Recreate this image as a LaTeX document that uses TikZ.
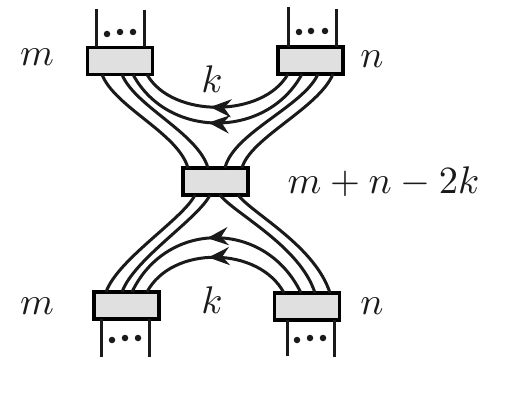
\documentclass[tikz,border=0pt]{standalone}
\usetikzlibrary{arrows.meta,decorations.markings}
\definecolor{boxgray}{HTML}{E0E0E0}
\definecolor{ink}{HTML}{1A1A1A}
\tikzset{
  block/.style={draw=black,fill=boxgray,line width=3.6pt,minimum width=65pt,minimum height=27pt,inner sep=0pt,outer sep=0pt},
  lab/.style={scale=3.85,inner sep=0pt,text=ink},
  strand/.style={draw=ink,line width=3pt},
  flow/.style={strand,postaction={decorate},decoration={markings,mark=at position 0.545 with {\arrow{Stealth[length=21pt,width=18pt,inset=7pt]}}}},
  leg/.style={draw=ink,line width=3pt},
  dotm/.style={circle,fill=ink,inner sep=0pt,minimum size=6.5pt}
}
\begin{document}
\begin{tikzpicture}[x=1pt,y=-1pt]
\useasboundingbox (0,0) rectangle (512,420);
\node[block] (tl) at (120,61) {};
\node[block] (tr) at (310.5,60.5) {};
\node[block] (c) at (215.5,181.5) {};
\node[block] (bl) at (126.5,305.5) {};
\node[block] (br) at (307,306.5) {};
\coordinate (tl1) at (96,9); \coordinate (tl2) at (144,10);
\coordinate (tr1) at (288,7); \coordinate (tr2) at (336,9);
\coordinate (bl1) at (101,357); \coordinate (bl2) at (149,357);
\coordinate (br1) at (287,356); \coordinate (br2) at (334,357);
\draw[leg] (tl1) -- (tl1 |- tl.north);
\draw[leg] (tl2) -- (tl2 |- tl.north);
\draw[leg] (tr1) -- (tr1 |- tr.north);
\draw[leg] (tr2) -- (tr2 |- tr.north);
\draw[leg] (bl1) -- (bl1 |- bl.south);
\draw[leg] (bl2) -- (bl2 |- bl.south);
\draw[leg] (br1) -- (br1 |- br.south);
\draw[leg] (br2) -- (br2 |- br.south);
\foreach \n/\x/\y in {a/107/34,b/120/32,d/133/32,e/299/32,f/311/31,g/325/31,h/112/340,i/125/338,j/138/338,k/297/340,l/310/338,o/323/338}
  \node[dotm] (dot\n) at (\x,\y) {};
% top S-strands
\draw[strand] ([xshift=-18pt]tl.south) .. controls +(13,33) and +(-10,-35) .. ([xshift=-27.5pt]c.north);
\draw[strand] ([xshift=2pt]tl.south) .. controls +(13,32) and +(-10,-35) .. ([xshift=-7.5pt]c.north);
\draw[strand] ([xshift=7.5pt]tr.south) .. controls +(-14,32) and +(8,-35) .. ([xshift=9.5pt]c.north);
\draw[strand] ([xshift=22.5pt]tr.south) .. controls +(-14,34) and +(8,-30) .. ([xshift=26.5pt]c.north);
% top arcs
\draw[flow] ([xshift=-22.5pt]tr.south) .. controls +(-25,44) and +(25,44) .. ([xshift=27pt]tl.south);
\draw[flow] ([xshift=-8.5pt]tr.south) .. controls +(-35,65) and +(35,65) .. ([xshift=13pt]tl.south);
% bottom S-strands
\draw[strand] ([xshift=-20.5pt]bl.north) .. controls +(12,-33) and +(-12,24) .. ([xshift=-20.5pt]c.south);
\draw[strand] ([xshift=-4.5pt]bl.north) .. controls +(12,-33) and +(-12,24) .. ([xshift=-5.5pt]c.south);
\draw[strand] ([xshift=8pt]br.north) .. controls +(-15,-47) and +(15,19) .. ([xshift=4.5pt]c.south);
\draw[strand] ([xshift=23pt]br.north) .. controls +(-15,-47) and +(15,19) .. ([xshift=22.5pt]c.south);
% bottom arcs
\draw[flow] ([xshift=-6pt]br.north) .. controls +(-35,-73) and +(35,-73) .. ([xshift=5.5pt]bl.north);
\draw[flow] ([xshift=-23pt]br.north) .. controls +(-25,-47) and +(25,-47) .. ([xshift=20.5pt]bl.north);
% labels
\node[lab] (lm1) at (37,57) {$m$};
\node[lab] (lk1) at (212,79) {$k$};
\node[lab] (ln1) at (372,59) {$n$};
\node[lab] (lc) at (383.5,182) {$m+n-2k$};
\node[lab] (lm2) at (37,306) {$m$};
\node[lab] (lk2) at (212,300) {$k$};
\node[lab] (ln2) at (372,306) {$n$};
\end{tikzpicture}
\end{document}
